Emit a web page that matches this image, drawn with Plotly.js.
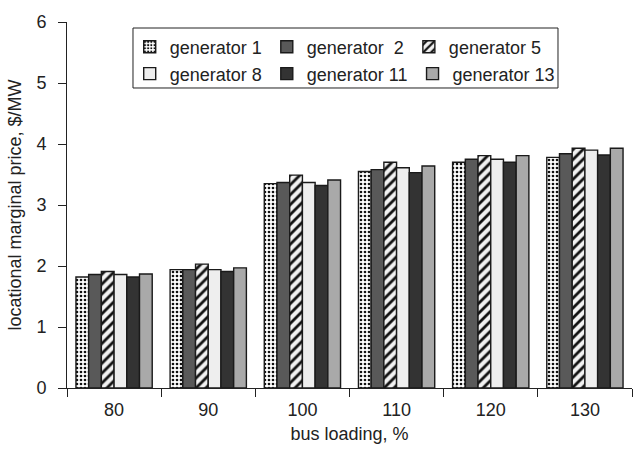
<!DOCTYPE html>
<html>
<head>
<meta charset="utf-8">
<script src="https://cdn.plot.ly/plotly-3.0.1.min.js"></script>
<style>
html,body{margin:0;padding:0;background:#fff;overflow:hidden;}
#chart{width:633px;height:450px;}
</style>
</head>
<body>
<div id="chart"></div>
<script>
const categories = ["80", "90", "100", "110", "120", "130"];
const seriesNames = ["generator 1", "generator  2", "generator 5", "generator 8", "generator 11", "generator 13"];
const gen1  = [1.82, 1.94, 3.35, 3.55, 3.70, 3.78];
const gen2  = [1.86, 1.94, 3.37, 3.58, 3.75, 3.84];
const gen5  = [1.91, 2.03, 3.49, 3.70, 3.81, 3.93];
const gen8  = [1.86, 1.94, 3.37, 3.61, 3.75, 3.90];
const gen11 = [1.82, 1.91, 3.32, 3.53, 3.70, 3.82];
const gen13 = [1.87, 1.97, 3.41, 3.64, 3.81, 3.93];
const seriesValues = [gen1, gen2, gen5, gen8, gen11, gen13];
const legendRow = ["legend", "legend", "legend", "legend2", "legend2", "legend2"];

const styles = [
  {color: "#ffffff", pattern: {shape: ".", fgcolor: "#111111", bgcolor: "#ffffff", size: 4, solidity: 0.35, fillmode: "replace"}},
  {color: "#595959"},
  {color: "#ffffff", pattern: {shape: "/", fgcolor: "#111111", bgcolor: "#f2f2f2", size: 7, solidity: 0.4, fillmode: "replace"}},
  {color: "#eeeeee"},
  {color: "#333333"},
  {color: "#a9a9a9"}
];

const traces = seriesValues.map((vals, i) => {
  const m = {color: styles[i].color, line: {color: "#1a1a1a", width: 1.4}};
  if (styles[i].pattern) m.pattern = styles[i].pattern;
  return {type: "bar", name: seriesNames[i], x: categories, y: vals, marker: m, legend: legendRow[i]};
});

const fam = "Liberation Sans, Arial, sans-serif";
const txt = {family: fam, size: 18, color: "#222222"};

function legendAt(yv) {
  return {
    orientation: "h",
    x: 0.111, xanchor: "left", xref: "paper",
    y: yv, yanchor: "middle", yref: "paper",
    borderwidth: 0,
    bgcolor: "rgba(0,0,0,0)",
    font: txt,
    traceorder: "normal"
  };
}

const layout = {
  width: 633, height: 450,
  margin: {l: 67, r: 1, t: 22, b: 62},
  paper_bgcolor: "#ffffff", plot_bgcolor: "#ffffff",
  font: txt,
  barmode: "group",
  bargap: 0.19,
  bargroupgap: 0,
  showlegend: true,
  legend: legendAt(0.9317),
  legend2: legendAt(0.858),
  shapes: [{
    type: "rect", xref: "paper", yref: "paper",
    x0: 0.1168, x1: 0.869, y0: 0.8197, y1: 0.9836,
    line: {color: "#222222", width: 1},
    fillcolor: "rgba(0,0,0,0)", layer: "above"
  }],
  xaxis: {
    type: "category",
    range: [-0.5, 5.5],
    showline: true, linecolor: "#222222", linewidth: 1,
    ticks: "outside", ticklen: 8, tickcolor: "#222222",
    tickson: "boundaries",
    tickfont: txt,
    showgrid: false, zeroline: false,
    ticklabelstandoff: 5,
    title: {text: "bus loading, %", font: txt, standoff: 8}
  },
  yaxis: {
    range: [0, 6],
    dtick: 1,
    showline: true, linecolor: "#222222", linewidth: 1,
    ticks: "outside", ticklen: 8, tickcolor: "#222222",
    tickfont: txt,
    showgrid: false, zeroline: false,
    ticklabelstandoff: 8,
    title: {text: "locational marginal price, $/MW", font: txt, standoff: 10}
  }
};

Plotly.newPlot("chart", traces, layout, {displayModeBar: false, staticPlot: true});
</script>
</body>
</html>
